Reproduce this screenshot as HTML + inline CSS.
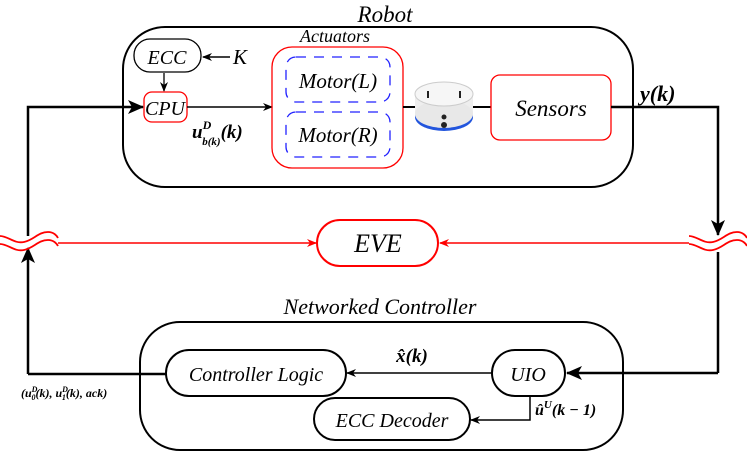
<!DOCTYPE html>
<html><head><meta charset="utf-8"><style>
body{margin:0;background:#fff}
svg{display:block}
svg text{font-family:"Liberation Serif","DejaVu Serif",serif;font-style:italic}
</style></head><body>
<svg width="747" height="453" viewBox="0 0 747 453" xmlns="http://www.w3.org/2000/svg" font-family="Liberation Serif, serif">
<defs>
<marker id="ak" markerWidth="10" markerHeight="10" refX="9" refY="5" orient="auto" markerUnits="userSpaceOnUse"><path d="M0,1 L10,5 L0,9 L3,5z" fill="#000"/></marker>
<marker id="akb" markerWidth="16" markerHeight="16" refX="15" refY="8" orient="auto" markerUnits="userSpaceOnUse"><path d="M0,1 L16,8 L0,15 L4,8z" fill="#000"/></marker>
<marker id="ar" markerWidth="10" markerHeight="10" refX="9" refY="5" orient="auto" markerUnits="userSpaceOnUse"><path d="M0,1 L10,5 L0,9 L3,5z" fill="#f00"/></marker>
</defs>
<text x="385" y="22" font-size="23" text-anchor="middle">Robot</text>
<rect x="123" y="27" width="510" height="160" rx="42" fill="none" stroke="#000" stroke-width="2"/>
<rect x="134" y="39" width="67" height="33" rx="16" fill="none" stroke="#000" stroke-width="1.3"/>
<text x="167" y="64" font-size="20" text-anchor="middle">ECC</text>
<text x="233" y="64" font-size="21">K</text>
<line x1="230" y1="57" x2="203" y2="57" stroke="#000" stroke-width="1.5" marker-end="url(#ak)"/>
<line x1="164" y1="73" x2="164" y2="91" stroke="#000" stroke-width="1.3" marker-end="url(#ak)"/>
<rect x="144" y="92" width="43" height="30" rx="8" fill="none" stroke="#f00" stroke-width="1.3"/>
<text x="165" y="115" font-size="20" text-anchor="middle">CPU</text>
<line x1="187" y1="107" x2="272" y2="107" stroke="#000" stroke-width="1.5" marker-end="url(#ak)"/>
<text x="192" y="138" font-size="19" font-weight="bold">u<tspan font-size="12" dy="-9">D</tspan><tspan font-size="11" dx="-9" dy="16">b(k)</tspan><tspan dy="-7">(k)</tspan></text>
<text x="335" y="42" font-size="18" text-anchor="middle">Actuators</text>
<rect x="272" y="47" width="131" height="121" rx="20" fill="none" stroke="#f00" stroke-width="1.3"/>
<rect x="286" y="57" width="104" height="45" rx="10" fill="none" stroke="#22f" stroke-width="1.3" stroke-dasharray="10,8"/>
<rect x="286" y="112" width="104" height="45" rx="10" fill="none" stroke="#22f" stroke-width="1.3" stroke-dasharray="10,8"/>
<text x="338" y="88" font-size="21" text-anchor="middle">Motor(L)</text>
<text x="338" y="142" font-size="21" text-anchor="middle">Motor(R)</text>
<line x1="403" y1="107" x2="491" y2="107" stroke="#000" stroke-width="2"/>
<ellipse cx="444" cy="117" rx="29" ry="14" fill="#2255dd"/>
<rect x="415" y="95" width="58" height="20" fill="#eee"/>
<ellipse cx="444" cy="114" rx="29" ry="14" fill="#e8e8e8"/>
<ellipse cx="444" cy="94" rx="29" ry="12" fill="#f6f6f6" stroke="#ccc"/>
<circle cx="444" cy="117" r="2.5" fill="#222"/><circle cx="444" cy="125" r="3" fill="#222"/>
<line x1="428" y1="91" x2="428" y2="98" stroke="#222" stroke-width="2"/><line x1="460" y1="91" x2="460" y2="98" stroke="#222" stroke-width="2"/>
<rect x="491" y="75" width="120" height="65" rx="9" fill="#fff" stroke="#f00" stroke-width="1.3"/>
<text x="551" y="116" font-size="23" text-anchor="middle">Sensors</text>
<text x="640" y="101" font-size="22" font-weight="bold">y(k)</text>
<polyline points="611,107 718,107 718,235" fill="none" stroke="#000" stroke-width="2.5" marker-end="url(#akb)"/>
<line x1="718" y1="252" x2="718" y2="373" stroke="#000" stroke-width="2.5"/>
<polyline points="718,373 567,373" fill="none" stroke="#000" stroke-width="2.5" marker-end="url(#akb)"/>
<polyline points="28,374 28,248" fill="none" stroke="#000" stroke-width="2.5" marker-end="url(#akb)"/>
<polyline points="28,236 28,107 143,107" fill="none" stroke="#000" stroke-width="2.5" marker-end="url(#akb)"/>
<line x1="28" y1="374" x2="166" y2="374" stroke="#000" stroke-width="2.5"/>
<g fill="none" stroke="#f00" stroke-width="1.8">
<path d="M0,236 C8,236 14,244 24,242 C34,240 38,232 48,232 C54,232 57,236 58,238"/>
<path d="M0,244 C8,244 14,252 24,250 C34,248 38,240 48,240 C54,240 57,244 58,246"/>
<path d="M689,236 C697,236 703,244 713,242 C723,240 727,232 737,232 C743,232 746,236 747,238"/>
<path d="M689,244 C697,244 703,252 713,250 C723,248 727,240 737,240 C743,240 746,244 747,246"/>
</g>
<line x1="58" y1="243" x2="316" y2="243" stroke="#f00" stroke-width="1.5" marker-end="url(#ar)"/>
<line x1="689" y1="243" x2="440" y2="243" stroke="#f00" stroke-width="1.5" marker-end="url(#ar)"/>
<rect x="317" y="220" width="121" height="46" rx="23" fill="#fff" stroke="#f00" stroke-width="2"/>
<text x="378" y="252" font-size="26" text-anchor="middle">EVE</text>
<text x="380" y="314" font-size="22" text-anchor="middle">Networked Controller</text>
<rect x="140" y="322" width="483" height="128" rx="40" fill="none" stroke="#000" stroke-width="2"/>
<rect x="166" y="350" width="180" height="46" rx="23" fill="#fff" stroke="#000" stroke-width="2"/>
<text x="256" y="381" font-size="20" text-anchor="middle">Controller Logic</text>
<rect x="492" y="350" width="73" height="46" rx="23" fill="#fff" stroke="#000" stroke-width="2"/>
<text x="528" y="381" font-size="20" text-anchor="middle">UIO</text>
<rect x="314" y="398" width="156" height="42" rx="21" fill="#fff" stroke="#000" stroke-width="2"/>
<text x="392" y="427" font-size="20" text-anchor="middle">ECC Decoder</text>
<line x1="492" y1="373" x2="347" y2="373" stroke="#000" stroke-width="1.5" marker-end="url(#ak)"/>
<text x="412" y="362" font-size="19" font-weight="bold" text-anchor="middle">x̂(k)</text>
<polyline points="530,396 530,420 471,420" fill="none" stroke="#000" stroke-width="1.5" marker-end="url(#ak)"/>
<text x="535" y="415" font-size="16" font-weight="bold">û<tspan font-size="11" dy="-7">U</tspan><tspan dy="7">(k − 1)</tspan></text>
<text x="21" y="397" font-size="12" font-weight="bold">(u<tspan font-size="8" dy="-5">D</tspan><tspan font-size="8" dx="-6" dy="8">0</tspan><tspan dy="-3">(k), u</tspan><tspan font-size="8" dy="-5">D</tspan><tspan font-size="8" dx="-6" dy="8">1</tspan><tspan dy="-3">(k), ack)</tspan></text>
</svg>
</body></html>
